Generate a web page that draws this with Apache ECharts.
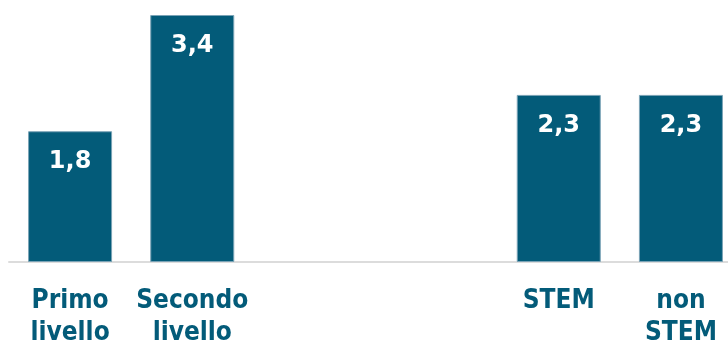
<!DOCTYPE html>
<html>
<head>
<meta charset="utf-8">
<script src="https://cdn.jsdelivr.net/npm/echarts@6/dist/echarts.min.js"></script>
<style>
  html, body { margin: 0; padding: 0; background: #fff; }
  #chart { width: 728px; height: 343px; }
</style>
</head>
<body>
<div id="chart"></div>
<script>
// categories (two empty slots make the gap between the groups)
const categories = ['Primo\nlivello', 'Secondo\nlivello', '', '', 'STEM', 'non\nSTEM'];
const values = [1.8, 3.4, null, null, 2.3, 2.3];

const teal = '#035b79';
const fontName = '"DejaVu Sans Condensed", "DejaVu Sans", sans-serif';

var myChart = echarts.init(document.getElementById('chart'));

var option = {
  animation: false,
  grid: {
    left: 9,
    top: 15,
    width: 733,
    bottom: 81,
    outerBoundsMode: 'none',
    containLabel: false
  },
  xAxis: {
    type: 'category',
    data: categories,
    axisLine: { lineStyle: { color: '#dcdcdc', width: 2 } },
    axisTick: { show: false },
    axisLabel: {
      interval: 0,
      margin: 23,
      color: teal,
      fontFamily: fontName,
      fontWeight: 'bold',
      fontSize: 26,
      lineHeight: 32
    }
  },
  yAxis: {
    type: 'value',
    min: 0,
    max: 3.4,
    show: false
  },
  series: [{
    type: 'bar',
    data: values,
    barWidth: 84,
    itemStyle: {
      color: teal,
      borderColor: '#7aa3b6',
      borderWidth: 1
    },
    label: {
      show: true,
      position: 'insideTop',
      distance: 19,
      color: '#fff',
      fontFamily: '"DejaVu Sans", sans-serif',
      fontWeight: 'bold',
      fontSize: 24,
      formatter: (p) => String(p.value).replace('.', ',')
    }
  }]
};

option && myChart.setOption(option);
</script>
</body>
</html>
